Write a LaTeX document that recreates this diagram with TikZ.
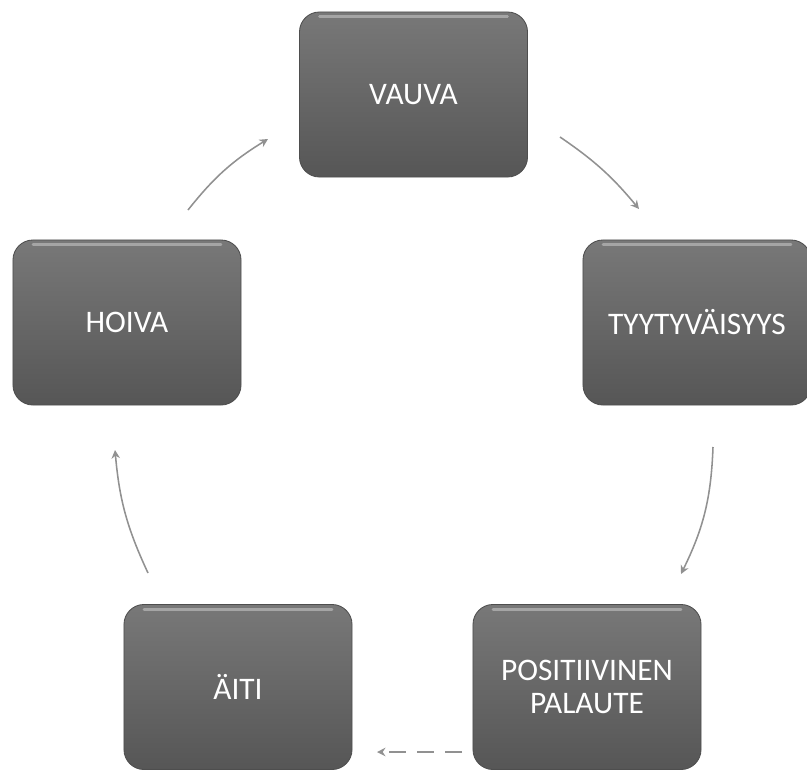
\documentclass[tikz,border=0pt]{standalone}
\usepackage{fontspec}
\setmainfont{Carlito}
\usetikzlibrary{arrows.meta}

\definecolor{boxtop}{RGB}{120,120,120}
\definecolor{boxbot}{RGB}{86,86,86}
\definecolor{boxedge}{RGB}{78,78,78}
\definecolor{boxshine}{RGB}{165,165,165}
\definecolor{arrowgray}{RGB}{145,145,145}

\tikzset{
  cyclebox/.style={rectangle, rounded corners=0.5cm, minimum width=5.7cm, minimum height=4.125cm,
    top color=boxtop, bottom color=boxbot, draw=boxedge, line width=0.6pt,
    text=white, align=center, font=\fontsize{22.3}{23}\selectfont,
    path picture={\draw[boxshine, line width=2pt, line cap=round]
      ([xshift=0.5cm,yshift=-0.12cm]path picture bounding box.north west) --
      ([xshift=-0.5cm,yshift=-0.12cm]path picture bounding box.north east);}},
  cyclearrow/.style={draw=arrowgray, line width=1.1pt, -{Stealth[length=6pt,width=6pt]}}
}

\begin{document}
\begin{tikzpicture}[x=0.025cm,y=-0.025cm]
\useasboundingbox (0,0) rectangle (807,769);

\node[cyclebox] (vauva) at (413.5,94.5) {VAUVA};
\node[cyclebox] (tyyt) at (697,322.5) {TYYTYVÄISYYS};
\node[cyclebox] (palaute) at (587,687) {POSITIIVINEN\\PALAUTE};
\node[cyclebox] (aiti) at (238,687) {ÄITI};
\node[cyclebox] (hoiva) at (127,322.5) {HOIVA};

% arrow ends
\coordinate (v1) at (560,137);
\coordinate (t0) at (639,209);
\coordinate (t1) at (713,447);
\coordinate (p0) at (681,574);
\coordinate (p1) at (462,752);
\coordinate (a0) at (377,752);
\coordinate (a1) at (148,573);
\coordinate (h0) at (115,450);
\coordinate (h1) at (188,210);
\coordinate (v0) at (268,139);

\draw[cyclearrow] (v1) to[bend left=8] (t0);
\draw[cyclearrow] (t1) to[bend left=12] (p0);
\draw[cyclearrow, dash pattern=on 12pt off 8pt] (p1) -- (a0);
\draw[cyclearrow] (a1) to[bend left=10] (h0);
\draw[cyclearrow] (h1) to[bend left=10] (v0);
\end{tikzpicture}
\end{document}
